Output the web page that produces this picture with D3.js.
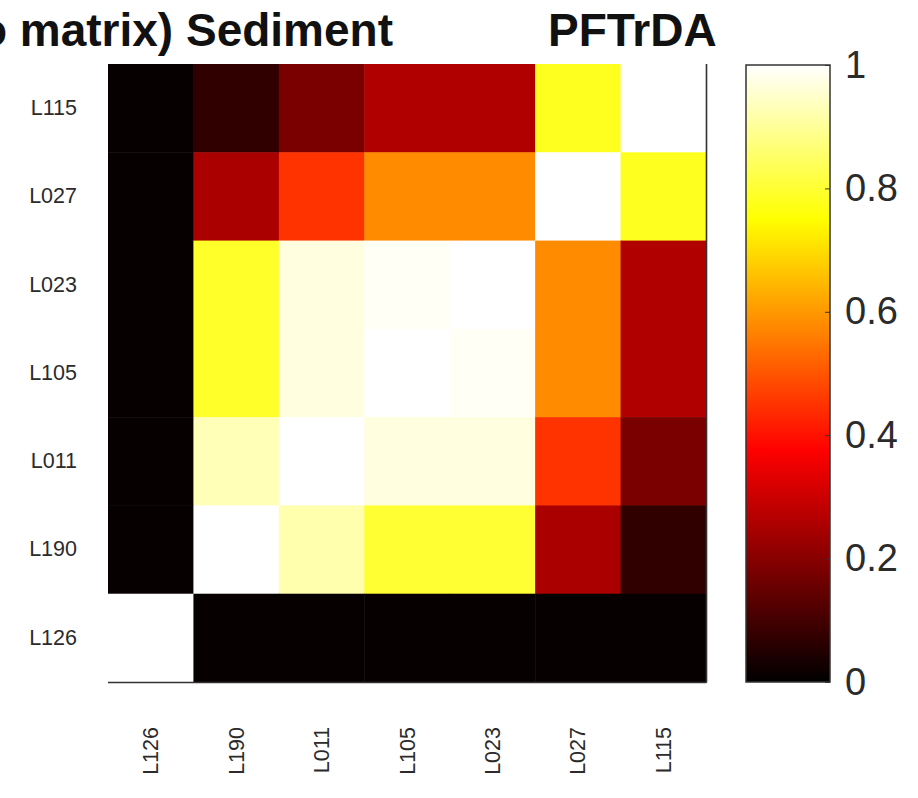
<!DOCTYPE html>
<html>
<head>
<meta charset="utf-8">
<script src="https://cdn.jsdelivr.net/npm/d3@7"></script>
<style>
  html, body { margin: 0; padding: 0; background: #fff; }
  svg { display: block; }
  text { font-family: "Liberation Sans", Arial, Helvetica, sans-serif; }
</style>
</head>
<body>
<div id="chart"></div>
<script>
// ---- Data ----
const rowLabels = ["L115", "L027", "L023", "L105", "L011", "L190", "L126"];
const colLabels = ["L126", "L190", "L011", "L105", "L023", "L027", "L115"];
const rowL115 = [0.01, 0.07, 0.18, 0.26, 0.26, 0.78, 1.00];
const rowL027 = [0.01, 0.25, 0.45, 0.58, 0.58, 1.00, 0.78];
const rowL023 = [0.01, 0.79, 0.97, 0.99, 1.00, 0.58, 0.26];
const rowL105 = [0.01, 0.79, 0.97, 1.00, 0.99, 0.58, 0.26];
const rowL011 = [0.01, 0.93, 1.00, 0.97, 0.97, 0.45, 0.18];
const rowL190 = [0.01, 1.00, 0.92, 0.80, 0.80, 0.25, 0.07];
const rowL126 = [1.00, 0.01, 0.01, 0.01, 0.01, 0.01, 0.01];
const matrixRows = [rowL115, rowL027, rowL023, rowL105, rowL011, rowL190, rowL126];
const colorbarTicks = [0, 0.2, 0.4, 0.6, 0.8, 1];
const titleLeft = "(Spearman's rho matrix) Sediment";
const titleRight = "PFTrDA";

// ---- MATLAB "hot" colormap ----
function hot(v) {
  const c = x => Math.max(0, Math.min(1, x));
  const r = c(v / 0.375), g = c((v - 0.375) / 0.375), b = c((v - 0.75) / 0.25);
  return d3.rgb(r * 255, g * 255, b * 255).toString();
}

const W = 918, H = 798;
const svg = d3.select("#chart").append("svg").attr("width", W).attr("height", H);

const x = d3.scaleBand().domain(colLabels).range([108, 706]).padding(0);
const y = d3.scaleBand().domain(rowLabels).range([64, 682]).padding(0);
const color = d3.scaleSequential(hot).domain([0, 1]);

const cells = [];
matrixRows.forEach((row, i) => row.forEach((v, j) => cells.push({ r: rowLabels[i], c: colLabels[j], v })));

svg.append("g").selectAll("rect").data(cells).join("rect")
  .attr("x", d => x(d.c))
  .attr("y", d => y(d.r))
  .attr("width", x.bandwidth() + 0.5)
  .attr("height", y.bandwidth() + 0.5)
  .attr("fill", d => color(d.v));

// axis lines (bottom + right only, as in reference)
svg.append("line").attr("x1", 108).attr("x2", 706.5).attr("y1", 682.5).attr("y2", 682.5)
  .attr("stroke", "#333").attr("stroke-width", 1.6);
svg.append("line").attr("x1", 706.5).attr("x2", 706.5).attr("y1", 64).attr("y2", 682.5)
  .attr("stroke", "#333").attr("stroke-width", 1.6);

// y tick labels
const yAxis = d3.axisLeft(y).tickSize(0).tickPadding(31);
const gy = svg.append("g").attr("transform", "translate(108,0)").call(yAxis);
gy.select(".domain").remove();
gy.selectAll("text").attr("font-size", 21.5).attr("fill", "#2b2b2b");

// x tick labels (rotated)
const xAxis = d3.axisBottom(x).tickSize(0);
const gx = svg.append("g").attr("transform", "translate(0,682)").call(xAxis);
gx.select(".domain").remove();
gx.selectAll("text")
  .attr("font-size", 21.5).attr("fill", "#2b2b2b")
  .attr("transform", "rotate(-90)")
  .attr("text-anchor", "end")
  .attr("x", -45).attr("y", 0).attr("dy", "0.35em");

// colorbar
const cbX = 746, cbW = 84;
const cy = d3.scaleLinear().domain([0, 1]).range([682, 65]);
const defs = svg.append("defs");
const grad = defs.append("linearGradient").attr("id", "cbgrad")
  .attr("x1", 0).attr("y1", 1).attr("x2", 0).attr("y2", 0);
d3.range(0, 65).forEach(k => {
  const t = k / 64;
  grad.append("stop").attr("offset", t).attr("stop-color", hot(t));
});
svg.append("rect").attr("x", cbX).attr("y", cy(1)).attr("width", cbW).attr("height", cy(0) - cy(1))
  .attr("fill", "url(#cbgrad)").attr("stroke", "#333").attr("stroke-width", 1.5);
const cAxis = d3.axisRight(cy).tickValues(colorbarTicks).tickSize(-5).tickPadding(20)
  .tickFormat(d => d3.format("~g")(d));
const gc = svg.append("g").attr("transform", `translate(${cbX + cbW},0)`).call(cAxis);
gc.select(".domain").remove();
gc.selectAll(".tick line").attr("stroke", "#333");
gc.selectAll("text").attr("font-size", 38).attr("fill", "#2b2b2b").attr("x", 15);

// title
svg.append("text").attr("x", 393).attr("y", 46).attr("text-anchor", "end")
  .attr("font-size", 46).attr("font-weight", "bold").attr("fill", "#111").text(titleLeft);
svg.append("text").attr("x", 548).attr("y", 46).attr("text-anchor", "start")
  .attr("font-size", 46).attr("font-weight", "bold").attr("fill", "#111").text(titleRight);
</script>
</body>
</html>
